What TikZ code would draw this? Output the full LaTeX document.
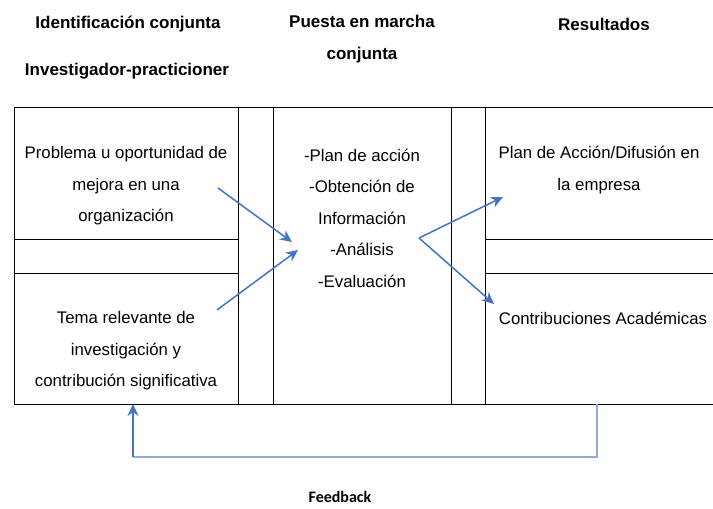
\documentclass[tikz,border=0pt]{standalone}
\usepackage{fontspec}
\setmainfont{Liberation Sans}
\newfontfamily\calib{Carlito}
\usepackage{xcolor}
\usepackage{tikz}
\usetikzlibrary{calc}
\usetikzlibrary{arrows.meta}
\definecolor{azul}{HTML}{4472C4}
\definecolor{azulclaro}{HTML}{8FAADC}
\tikzset{
  celda/.style={align=center,font=\fontsize{16.8}{31.5}\selectfont},
  titulo/.style={align=center,font=\fontsize{17}{32}\selectfont\bfseries},
  flecha/.style={azul,line width=1.5pt,-{Stealth[length=12pt,width=11pt]}},
  rejilla/.style={black,line width=0.9pt}
}
\begin{document}
\begin{tikzpicture}[x=1pt,y=-1pt]
 	\useasboundingbox (0,0) rectangle (713,509);
 	\draw[rejilla] (14,107)--(713,107);
 	\draw[rejilla] (14,404)--(713,404);
 	\draw[rejilla] (14,107)--(14,404);
 	\foreach \x in {238,273,451,485}
 		\draw[rejilla] (\x,107)--(\x,404);
 	\draw[rejilla] (14,239)--(238,239);
 	\draw[rejilla] (14,273)--(238,273);
 	\draw[rejilla] (485,239)--(713,239);
 	\draw[rejilla] (485,273)--(713,273);
 		\node[titulo] (tid) at (128,24) {Identificación conjunta};
 		\node[titulo] (tinv) at (127,71) {Investigador-practicioner};
 		\node[titulo] (tpue) at (362,39) {Puesta en marcha\\conjunta};
 		\node[titulo] (tres) at (604,24) {Resultados};
 		\node[celda] (prob) at (126,186) {Problema u oportunidad de\\mejora en una\\organización};
 		\node[celda] (tema) at (126,351) {Tema relevante de\\investigación y\\contribución significativa};
 		\node[celda] (plan) at (362,218) {-Plan de acción\\-Obtención de\\Información\\-Análisis\\-Evaluación};
 		\node[celda] (difu) at (599,170) {Plan de Acción/Difusión en\\la empresa};
 		\node[celda] (acad) at (603,318) {Contribuciones Académicas};
 		\node (feed) at (340,497) {\calib\fontsize{16}{20}\selectfont\bfseries Feedback};
 	\coordinate (p1) at (218,188);
 	\coordinate (p2) at (217,310);
 	\coordinate (m1) at (292,242);
 	\coordinate (m2) at (298,250);
 	\coordinate (sal) at (419,238);
 	\coordinate (r1) at (503,197);
 	\coordinate (r2) at (494,304);
 	\coordinate (fb1) at (597,404);
 	\coordinate (fb2) at (597,457);
 	\coordinate (fb3) at (133,457);
 	\coordinate (fb4) at (133,404);
 	\draw[flecha] (p1)--(m1);
 	\draw[flecha] (p2)--(m2);
 	\draw[flecha] (sal)--(r1);
 	\draw[flecha] (sal)--(r2);
 	\draw[azulclaro,line width=1.5pt] (fb1)--(fb2)--(fb3);
 	\draw[flecha] (fb3)--(fb4);
\end{tikzpicture}
\end{document}
